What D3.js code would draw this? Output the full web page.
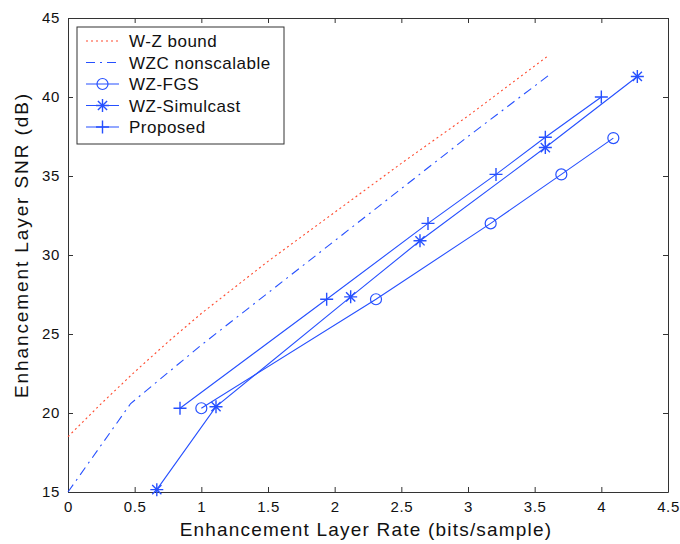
<!DOCTYPE html>
<html>
<head>
<meta charset="utf-8">
<script src="https://cdn.jsdelivr.net/npm/d3@7"></script>
<style>
  body { margin: 0; background: #fff; }
  text { font-family: "Liberation Sans", Arial, sans-serif; fill: #111; }
</style>
</head>
<body>
<div id="chart"></div>
<script>
const width = 680
const height = 544
const margin = { top: 18, bottom: 52, left: 68, right: 12 }

// data
const wzBoundX = [0, 0.25, 0.5, 0.75, 1, 1.5, 2, 2.5, 3, 3.6]
const wzBoundY = [18.5, 20.6, 22.6, 24.5, 26.3, 29.6, 32.7, 35.8, 38.8, 42.6]
const wzcX = [0, 0.47, 1, 1.5, 2, 2.5, 3, 3.61]
const wzcY = [15, 20.6, 24.3, 27.6, 30.9, 34.2, 37.5, 41.4]
const fgsX = [1.0, 2.31, 3.17, 3.70, 4.09]
const fgsY = [20.3, 27.2, 32.0, 35.1, 37.4]
const simX = [0.666, 1.11, 2.12, 2.64, 3.58, 4.27]
const simY = [15.15, 20.4, 27.35, 30.9, 36.8, 41.3]
const propX = [0.84, 1.94, 2.70, 3.21, 3.58, 4.0]
const propY = [20.3, 27.2, 32.0, 35.1, 37.45, 40.0]
const xTicks = [0, 0.5, 1, 1.5, 2, 2.5, 3, 3.5, 4, 4.5]
const yTicks = [15, 20, 25, 30, 35, 40, 45]

const blue = "#2650ff"
const red = "#ff4a2e"

const w = width - margin.left - margin.right
const h = height - margin.top - margin.bottom

const svg = d3.select("#chart").append("svg").attr("width", width).attr("height", height)
const g = svg.append("g").attr("transform", `translate(${margin.left}, ${margin.top})`)

const x = d3.scaleLinear().domain([0, 4.5]).range([0, w])
const y = d3.scaleLinear().domain([15, 45]).range([h, 0])

// axes, MATLAB style: ticks inside on all four sides
const axisStyle = sel => {
    sel.selectAll("path.domain").attr("stroke", "#333")
    sel.selectAll(".tick line").attr("stroke", "#333")
    sel.selectAll(".tick text").style("font-size", "15px").style("letter-spacing", "0.6px").attr("fill", "#111")
}
g.append("g").attr("transform", `translate(0, ${h})`)
    .call(d3.axisBottom(x).tickValues(xTicks).tickSize(-5).tickPadding(9).tickSizeOuter(0).tickFormat(d3.format("")))
    .call(axisStyle)
g.append("g")
    .call(d3.axisLeft(y).tickValues(yTicks).tickSize(-5).tickPadding(8).tickSizeOuter(0))
    .call(axisStyle)
g.append("g")
    .call(d3.axisTop(x).tickValues(xTicks).tickSize(-5).tickSizeOuter(0).tickFormat(""))
    .call(axisStyle)
g.append("g").attr("transform", `translate(${w}, 0)`)
    .call(d3.axisRight(y).tickValues(yTicks).tickSize(-5).tickSizeOuter(0).tickFormat(""))
    .call(axisStyle)

// axis titles
svg.append("text").attr("x", margin.left + w / 2 - 2).attr("y", height - 8)
    .attr("text-anchor", "middle").style("font-size", "19px").style("letter-spacing", "1.2px")
    .text("Enhancement Layer Rate (bits/sample)")
svg.append("text").attr("transform", `translate(28, ${margin.top + h / 2 - 10}) rotate(-90)`)
    .attr("text-anchor", "middle").style("font-size", "19px").style("letter-spacing", "1.9px")
    .text("Enhancement Layer SNR (dB)")

const line = d3.line().x(d => x(d[0])).y(d => y(d[1]))
const zip = (a, b) => a.map((v, i) => [v, b[i]])

const series = [
    { name: "W-Z bound", pts: zip(wzBoundX, wzBoundY), color: red, dash: "2,3", marker: null },
    { name: "WZC nonscalable", pts: zip(wzcX, wzcY), color: blue, dash: "9,5,2,5", marker: null },
    { name: "WZ-FGS", pts: zip(fgsX, fgsY), color: blue, dash: null, marker: "circle" },
    { name: "WZ-Simulcast", pts: zip(simX, simY), color: blue, dash: null, marker: "star" },
    { name: "Proposed", pts: zip(propX, propY), color: blue, dash: null, marker: "plus" }
]

const drawMarker = (sel, type, color) => {
    if (type === "circle") {
        sel.append("circle").attr("r", 5.5).attr("fill", "none").attr("stroke", color).attr("stroke-width", 1.2)
    } else if (type === "plus" || type === "star") {
        const s = 6.5
        sel.append("path").attr("d", `M${-s},0H${s}M0,${-s}V${s}`).attr("stroke", color).attr("stroke-width", 1.4)
        if (type === "star") {
            const t = 4.6
            sel.append("path").attr("d", `M${-t},${-t}L${t},${t}M${-t},${t}L${t},${-t}`)
                .attr("stroke", color).attr("stroke-width", 1.4)
            sel.append("circle").attr("r", 1.8).attr("fill", color)
        }
    }
}

const plot = g.append("g")
series.forEach(s => {
    plot.append("path").datum(s.pts)
        .attr("d", line)
        .attr("fill", "none")
        .attr("stroke", s.color)
        .attr("stroke-width", 1.1)
        .attr("stroke-dasharray", s.dash)
    if (s.marker) {
        plot.selectAll(null).data(s.pts).enter().append("g")
            .attr("transform", d => `translate(${x(d[0])}, ${y(d[1])})`)
            .each(function () { drawMarker(d3.select(this), s.marker, s.color) })
    }
})

// legend
const legend = svg.append("g").attr("transform", "translate(77, 27)")
legend.append("rect").attr("width", 207).attr("height", 117)
    .attr("fill", "#fff").attr("stroke", "#333").attr("stroke-width", 1)
series.forEach((s, i) => {
    const ly = 14 + i * 21.5
    legend.append("line").attr("x1", 9).attr("x2", 42).attr("y1", ly).attr("y2", ly)
        .attr("stroke", s.color).attr("stroke-width", 1.1).attr("stroke-dasharray", s.dash)
    if (s.marker) {
        const m = legend.append("g").attr("transform", `translate(25.5, ${ly})`)
        drawMarker(m, s.marker, s.color)
    }
    legend.append("text").attr("x", 52).attr("y", ly).attr("dy", "0.36em")
        .style("font-size", "17px").style("letter-spacing", "0.5px").text(s.name)
})
</script>
</body>
</html>
